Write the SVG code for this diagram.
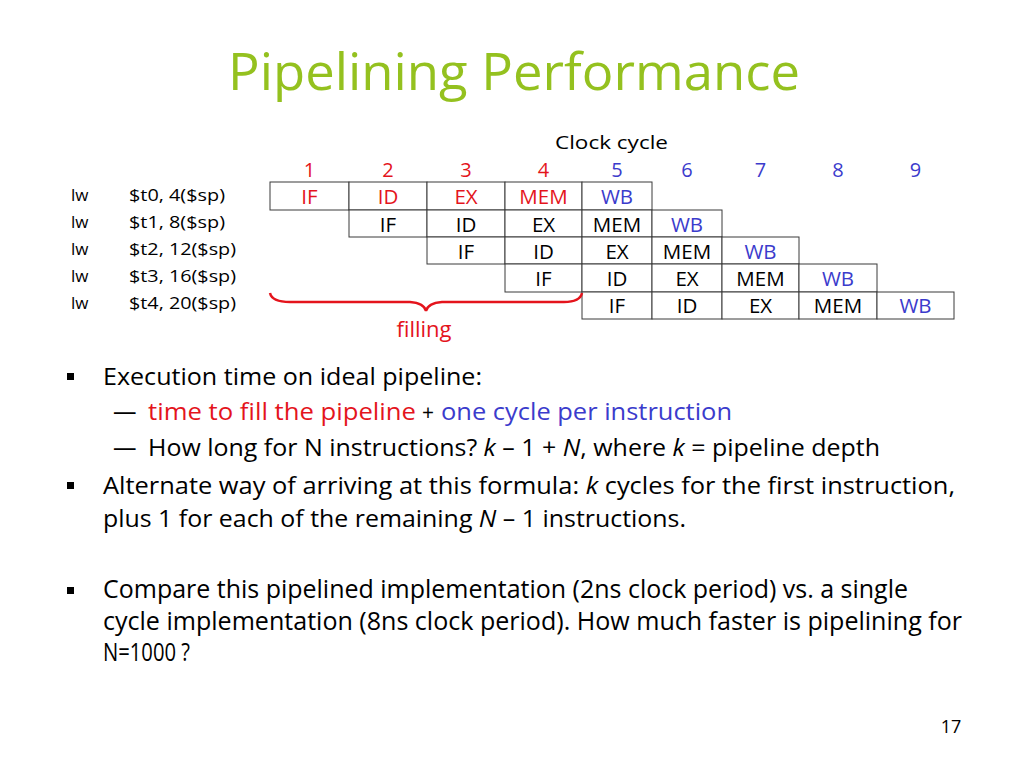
<svg xmlns="http://www.w3.org/2000/svg" width="1024" height="768" viewBox="0 0 1024 768">
<style>
.t{font-family:"Open Sans","DejaVu Sans",sans-serif;}
.title{font-size:52px;fill:#94c11f;}
.cell{fill:#fff;stroke:#3a3a3a;stroke-width:1;}
.ct{font-size:20.5px;text-anchor:middle;fill:#000;}
.num{font-size:20px;text-anchor:middle;}
.ins{font-size:17px;fill:#000;}
.body{font-size:23.5px;fill:#000;}
.cond{font-size:25px;fill:#000;}
.red{fill:#e4141c;}
.blue{fill:#3b3bcc;}
.bul{fill:#000;}
</style>
<rect width="1024" height="768" fill="#fff"/>
<text class="t title" x="228" y="90" textLength="572" lengthAdjust="spacingAndGlyphs">Pipelining Performance</text>

<g id="header">
<text class="t" x="555" y="149" font-size="19" textLength="113" lengthAdjust="spacingAndGlyphs">Clock cycle</text>
<text class="t num red" x="309.5" y="177">1</text>
<text class="t num red" x="388" y="177">2</text>
<text class="t num red" x="466" y="177">3</text>
<text class="t num red" x="543.5" y="177">4</text>
<text class="t num blue" x="617" y="177">5</text>
<text class="t num blue" x="687" y="177">6</text>
<text class="t num blue" x="760.5" y="177">7</text>
<text class="t num blue" x="838" y="177">8</text>
<text class="t num blue" x="915.5" y="177">9</text>
</g>

<g id="instructions">
<text class="t ins" x="71" y="201">lw</text><text class="t ins" x="129" y="201" textLength="96" lengthAdjust="spacingAndGlyphs">$t0, 4($sp)</text>
<text class="t ins" x="71" y="228">lw</text><text class="t ins" x="129" y="228" textLength="96" lengthAdjust="spacingAndGlyphs">$t1, 8($sp)</text>
<text class="t ins" x="71" y="255">lw</text><text class="t ins" x="129" y="255" textLength="107" lengthAdjust="spacingAndGlyphs">$t2, 12($sp)</text>
<text class="t ins" x="71" y="282">lw</text><text class="t ins" x="129" y="282" textLength="107" lengthAdjust="spacingAndGlyphs">$t3, 16($sp)</text>
<text class="t ins" x="71" y="309">lw</text><text class="t ins" x="129" y="309" textLength="107" lengthAdjust="spacingAndGlyphs">$t4, 20($sp)</text>
</g>

<g id="row1">
<rect class="cell" x="270" y="182" width="79" height="28"/>
<rect class="cell" x="349" y="182" width="78" height="28"/>
<rect class="cell" x="427" y="182" width="78" height="28"/>
<rect class="cell" x="505" y="182" width="77" height="28"/>
<rect class="cell" x="582" y="182" width="70" height="28"/>
<text class="t ct red" x="309.5" y="204">IF</text>
<text class="t ct red" x="388" y="204">ID</text>
<text class="t ct red" x="466" y="204">EX</text>
<text class="t ct red" x="543.5" y="204">MEM</text>
<text class="t ct blue" x="617" y="204">WB</text>
</g>
<g id="row2">
<rect class="cell" x="349" y="210" width="78" height="27"/>
<rect class="cell" x="427" y="210" width="78" height="27"/>
<rect class="cell" x="505" y="210" width="77" height="27"/>
<rect class="cell" x="582" y="210" width="70" height="27"/>
<rect class="cell" x="652" y="210" width="70" height="27"/>
<text class="t ct" x="388" y="232">IF</text>
<text class="t ct" x="466" y="232">ID</text>
<text class="t ct" x="543.5" y="232">EX</text>
<text class="t ct" x="617" y="232">MEM</text>
<text class="t ct blue" x="687" y="232">WB</text>
</g>
<g id="row3">
<rect class="cell" x="427" y="237" width="78" height="27"/>
<rect class="cell" x="505" y="237" width="77" height="27"/>
<rect class="cell" x="582" y="237" width="70" height="27"/>
<rect class="cell" x="652" y="237" width="70" height="27"/>
<rect class="cell" x="722" y="237" width="77" height="27"/>
<text class="t ct" x="466" y="259">IF</text>
<text class="t ct" x="543.5" y="259">ID</text>
<text class="t ct" x="617" y="259">EX</text>
<text class="t ct" x="687" y="259">MEM</text>
<text class="t ct blue" x="760.5" y="259">WB</text>
</g>
<g id="row4">
<rect class="cell" x="505" y="264" width="77" height="28"/>
<rect class="cell" x="582" y="264" width="70" height="28"/>
<rect class="cell" x="652" y="264" width="70" height="28"/>
<rect class="cell" x="722" y="264" width="77" height="28"/>
<rect class="cell" x="799" y="264" width="78" height="28"/>
<text class="t ct" x="543.5" y="286">IF</text>
<text class="t ct" x="617" y="286">ID</text>
<text class="t ct" x="687" y="286">EX</text>
<text class="t ct" x="760.5" y="286">MEM</text>
<text class="t ct blue" x="838" y="286">WB</text>
</g>
<g id="row5">
<rect class="cell" x="582" y="292" width="70" height="27"/>
<rect class="cell" x="652" y="292" width="70" height="27"/>
<rect class="cell" x="722" y="292" width="77" height="27"/>
<rect class="cell" x="799" y="292" width="78" height="27"/>
<rect class="cell" x="877" y="292" width="77" height="27"/>
<text class="t ct" x="617" y="313">IF</text>
<text class="t ct" x="687" y="313">ID</text>
<text class="t ct" x="760.5" y="313">EX</text>
<text class="t ct" x="838" y="313">MEM</text>
<text class="t ct blue" x="915.5" y="313">WB</text>
</g>

<g id="connectors">
<path d="M270,293 Q272,302 290,302 L410,302 Q424,303 426,311 Q428,303 442,302 L564,302 Q580,302 582,293" fill="none" stroke="#e4141c" stroke-width="2.5"/>
</g>
<g id="filling">
<text class="t red" x="424" y="337" font-size="22" text-anchor="middle">filling</text>
</g>

<g id="bullets">
<rect class="bul" x="67" y="373" width="7" height="7"/>
<text class="t body" x="103" y="385" textLength="379" lengthAdjust="spacingAndGlyphs">Execution time on ideal pipeline:</text>
<text class="t body" x="113" y="420">—</text>
<text class="t body red" x="148" y="420" textLength="268" lengthAdjust="spacingAndGlyphs">time to fill the pipeline</text>
<text class="t" x="428" y="420" font-size="21" text-anchor="middle" fill="#000">+</text>
<text class="t body blue" x="441" y="420" textLength="291" lengthAdjust="spacingAndGlyphs">one cycle per instruction</text>
<text class="t body" x="113" y="456">—</text>
<text class="t body" x="148" y="456" textLength="732" lengthAdjust="spacingAndGlyphs">How long for N instructions? <tspan font-style="italic">k</tspan> – 1 + <tspan font-style="italic">N</tspan>, where <tspan font-style="italic">k</tspan> = pipeline depth</text>
<rect class="bul" x="67" y="482" width="7" height="7"/>
<text class="t body" x="103" y="494" textLength="852" lengthAdjust="spacingAndGlyphs">Alternate way of arriving at this formula: <tspan font-style="italic">k</tspan> cycles for the first instruction,</text>
<text class="t body" x="103" y="527" textLength="583" lengthAdjust="spacingAndGlyphs">plus 1 for each of the remaining <tspan font-style="italic">N</tspan> – 1 instructions.</text>
<rect class="bul" x="67" y="587" width="7" height="7"/>
<text class="t cond" x="103" y="598" textLength="805" lengthAdjust="spacingAndGlyphs">Compare this pipelined implementation (2ns clock period) vs. a single</text>
<text class="t cond" x="103" y="630" textLength="859" lengthAdjust="spacingAndGlyphs">cycle implementation (8ns clock period). How much faster is pipelining for</text>
<text class="t cond" x="103" y="661" textLength="87" lengthAdjust="spacingAndGlyphs">N=1000 ?</text>
</g>
<text class="t" x="951" y="733" font-size="18" text-anchor="middle" fill="#000">17</text>
</svg>
